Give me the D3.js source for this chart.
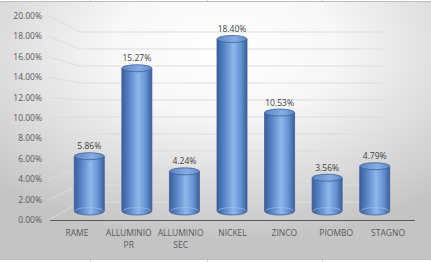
<!DOCTYPE html>
<html>
<head>
<meta charset="utf-8">
<script src="https://cdn.jsdelivr.net/npm/d3@7"></script>
<style>
  body { margin: 0; background: #fff; }
  svg { display: block; }
  text { font-family: "Open Sans", Lato, sans-serif; }
</style>
</head>
<body>
<div id="chart"></div>
<script>
const categories = ["RAME", "ALLUMINIO PR", "ALLUMINIO SEC", "NICKEL", "ZINCO", "PIOMBO", "STAGNO"];
const catLines = [["RAME"], ["ALLUMINIO", "PR"], ["ALLUMINIO", "SEC"], ["NICKEL"], ["ZINCO"], ["PIOMBO"], ["STAGNO"]];
const values = [0.0586, 0.1527, 0.0424, 0.1840, 0.1053, 0.0356, 0.0479];
const valueLabels = ["5.86%", "15.27%", "4.24%", "18.40%", "10.53%", "3.56%", "4.79%"];
const yTicks = [0, 0.02, 0.04, 0.06, 0.08, 0.10, 0.12, 0.14, 0.16, 0.18, 0.20];

const width = 431, height = 262;

const svg = d3.select("#chart").append("svg")
  .attr("width", width).attr("height", height);

const defs = svg.append("defs");

// chart background: light path-like gradient
const bg = defs.append("radialGradient").attr("id", "bg")
  .attr("cx", "52%").attr("cy", "18%").attr("r", "75%")
  .attr("fx", "52%").attr("fy", "18%");
bg.append("stop").attr("offset", "0%").attr("stop-color", "#ffffff");
bg.append("stop").attr("offset", "35%").attr("stop-color", "#f7f7f7");
bg.append("stop").attr("offset", "100%").attr("stop-color", "#c4c4c4");

const body = defs.append("linearGradient").attr("id", "cyl")
  .attr("x1", "0%").attr("x2", "100%").attr("y1", "0%").attr("y2", "0%");
[["0%", "#3a5e98"], ["18%", "#4f7bbd"], ["55%", "#8db7ec"], ["80%", "#6491d0"], ["100%", "#3b5f99"]]
  .forEach(([o, c]) => body.append("stop").attr("offset", o).attr("stop-color", c));

const topGrad = defs.append("linearGradient").attr("id", "cylTop")
  .attr("x1", "0%").attr("x2", "100%");
[["0%", "#5c86c4"], ["60%", "#86aee3"], ["100%", "#5f89c6"]]
  .forEach(([o, c]) => topGrad.append("stop").attr("offset", o).attr("stop-color", c));

// outer cell lines from spreadsheet
svg.append("g").selectAll("line")
  .data([90, 207, 322])
  .join("line")
  .attr("x1", (d) => d + 0.5).attr("x2", (d) => d + 0.5)
  .attr("y1", 0).attr("y2", height)
  .attr("stroke", "#d4d4d4");

svg.append("rect")
  .attr("x", -1).attr("y", 1.5)
  .attr("width", width + 2).attr("height", 258)
  .attr("fill", "url(#bg)")
  .attr("stroke", "#bdbdbd");

// perspective: front plane and back plane
const xFront = d3.scaleBand().domain(categories).range([51, 414]);
const xBack = d3.scaleBand().domain(categories).range([80, 383]);
const yFront = d3.scaleLinear().domain([0, 0.2]).range([220, 16]);
const yBack = d3.scaleLinear().domain([0, 0.2]).range([202, 32]);
const depth = 0.5;
const lerp = (a, b, t) => a + (b - a) * t;
const xMid = (c) => lerp(xFront(c) + xFront.bandwidth() / 2, xBack(c) + xBack.bandwidth() / 2, depth);
const yMid = (v) => lerp(yFront(v), yBack(v), depth);

// gridlines
const grid = svg.append("g").attr("fill", "none");
grid.selectAll("path")
  .data(yTicks)
  .join("path")
  .attr("d", (d) => `M49,${yFront(d)} L${xBack.range()[0]},${yBack(d)} L${xBack.range()[1]},${yBack(d)}`)
  .attr("stroke", "#dcdcdc")
  .attr("stroke-width", 1);

// y axis labels
svg.append("g").selectAll("text")
  .data(yTicks)
  .join("text")
  .attr("x", 42)
  .attr("y", (d) => yFront(d))
  .attr("dy", "0.35em")
  .attr("text-anchor", "end")
  .attr("font-size", 8.5)
  .attr("fill", "#595959")
  .text((d) => d3.format(".2%")(d));

// front axis line
svg.append("line")
  .attr("x1", 50).attr("x2", 415)
  .attr("y1", yFront(0) + 0.5).attr("y2", yFront(0) + 0.5)
  .attr("stroke", "#595959").attr("stroke-width", 1.2);

// cylinders
const rx = 15, ry = 3.5, ryBase = 4;
const base = yMid(0);
const cyl = svg.append("g").selectAll("g")
  .data(categories)
  .join("g");

cyl.append("path")
  .attr("d", (d, i) => {
    const cx = xMid(d), top = yMid(values[i]);
    return `M${cx - rx},${top} L${cx - rx},${base} A${rx},${ryBase} 0 0,0 ${cx + rx},${base} L${cx + rx},${top} Z`;
  })
  .attr("fill", "url(#cyl)")
  .attr("stroke", "#3d6099")
  .attr("stroke-width", 0.8);

// back half of base seen through
cyl.append("path")
  .attr("d", (d) => {
    const cx = xMid(d);
    return `M${cx - rx + 1},${base} A${rx - 1},${ryBase - 0.5} 0 0,1 ${cx + rx - 1},${base}`;
  })
  .attr("fill", "none")
  .attr("stroke", "#9fc0ea")
  .attr("stroke-width", 0.8)
  .attr("opacity", 0.8);

cyl.append("ellipse")
  .attr("cx", (d) => xMid(d))
  .attr("cy", (d, i) => yMid(values[i]))
  .attr("rx", rx).attr("ry", ry)
  .attr("fill", "url(#cylTop)")
  .attr("stroke", "#3d6099")
  .attr("stroke-width", 0.8);

// value labels
svg.append("g").selectAll("text")
  .data(categories)
  .join("text")
  .attr("x", (d) => xMid(d))
  .attr("y", (d, i) => yMid(values[i]) - 7)
  .attr("text-anchor", "middle")
  .attr("font-size", 8.5)
  .attr("fill", "#404040")
  .text((d, i) => valueLabels[i]);

// category labels
const cat = svg.append("g").selectAll("text")
  .data(categories)
  .join("text")
  .attr("x", (d) => xFront(d) + xFront.bandwidth() / 2)
  .attr("y", 236)
  .attr("text-anchor", "middle")
  .attr("font-size", 8.5)
  .attr("fill", "#595959");

cat.selectAll("tspan")
  .data((d, i) => catLines[i])
  .join("tspan")
  .attr("x", function () { return d3.select(this.parentNode).attr("x"); })
  .attr("dy", (d, j) => (j === 0 ? 0 : 12))
  .text((d) => d);
</script>
</body>
</html>
